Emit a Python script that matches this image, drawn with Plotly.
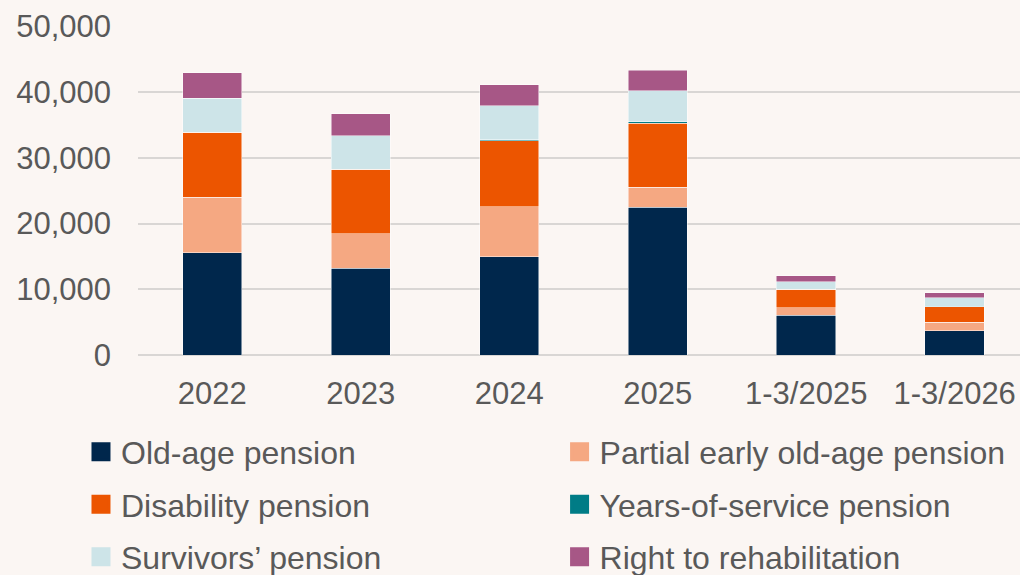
import plotly.graph_objects as go

categories = ["2022", "2023", "2024", "2025", "1-3/2025", "1-3/2026"]

old_age = [15570, 13230, 14960, 22460, 6040, 3710]
partial_early = [8460, 5230, 7610, 3040, 1170, 1310]
disability = [9840, 9820, 10080, 9780, 2780, 2340]
years_of_service = [0, 0, 150, 210, 30, 50]
survivors = [5210, 5080, 5130, 4760, 1110, 1310]
rehabilitation = [3860, 3390, 3190, 3090, 970, 760]

series_names = [
    "Old-age pension",
    "Partial early old-age pension",
    "Disability pension",
    "Years-of-service pension",
    "Survivors’ pension",
    "Right to rehabilitation",
]
series_values = [old_age, partial_early, disability, years_of_service, survivors, rehabilitation]
colors = ["#00274C", "#F5A882", "#EC5500", "#007C86", "#CDE4E8", "#A75786"]
legend_slot = ["legend", "legend2", "legend", "legend2", "legend", "legend2"]

bg = "#FBF6F3"
text_col = "#595959"
grid_col = "#D9D6D4"
font_fam = "Liberation Sans, Arial, sans-serif"
fs = 31
lfs = 32

fig = go.Figure()
for name, vals, col in zip(series_names, series_values, colors):
    fig.add_trace(go.Bar(
        x=categories, y=vals, name=name, width=0.4,
        marker=dict(color=col, line=dict(color="rgba(255,255,255,0.6)", width=0.8)),
        showlegend=False,
    ))
# legend entries with larger square symbols
for i, (name, col, lg) in enumerate(zip(series_names, colors, legend_slot)):
    fig.add_trace(go.Scatter(
        x=[None], y=[None], mode="markers", name=name,
        marker=dict(symbol="square", size=16, color=col, line=dict(color=col, width=3)),
        showlegend=True, legend=lg, legendgroup="g%d" % i,
    ))

legend_common = dict(
    orientation="v", xref="container", yref="container",
    yanchor="top", xanchor="left",
    font=dict(size=lfs, color=text_col),
    bgcolor="rgba(0,0,0,0)", traceorder="grouped",
    tracegroupgap=8, itemsizing="trace",
)

fig.update_layout(
    width=1020, height=575,
    barmode="stack",
    paper_bgcolor=bg, plot_bgcolor=bg,
    margin=dict(l=138, r=0, t=26, b=220, autoexpand=False),
    font=dict(family=font_fam, size=fs, color=text_col),
    xaxis=dict(
        type="category", range=[-0.5, 5.44], automargin=False,
        showgrid=False, showline=False, ticks="",
        tickfont=dict(size=fs, color=text_col),
        ticklabelstandoff=17, tickangle=0,
    ),
    yaxis=dict(
        range=[0, 50080], tickvals=[0, 10000, 20000, 30000, 40000, 50000], tickformat=",",
        automargin=False,
        showgrid=True, gridcolor=grid_col, gridwidth=1.5,
        zeroline=True, zerolinecolor=grid_col, zerolinewidth=1.5,
        showline=False, ticks="",
        tickfont=dict(size=fs, color=text_col),
        ticklabelstandoff=26,
    ),
    legend=dict(x=0.0794, y=0.262, **legend_common),
    legend2=dict(x=0.5486, y=0.262, **legend_common),
)

fig.write_html("out.html", config={"displayModeBar": False},
               post_script="document.body.style.margin='0';")
